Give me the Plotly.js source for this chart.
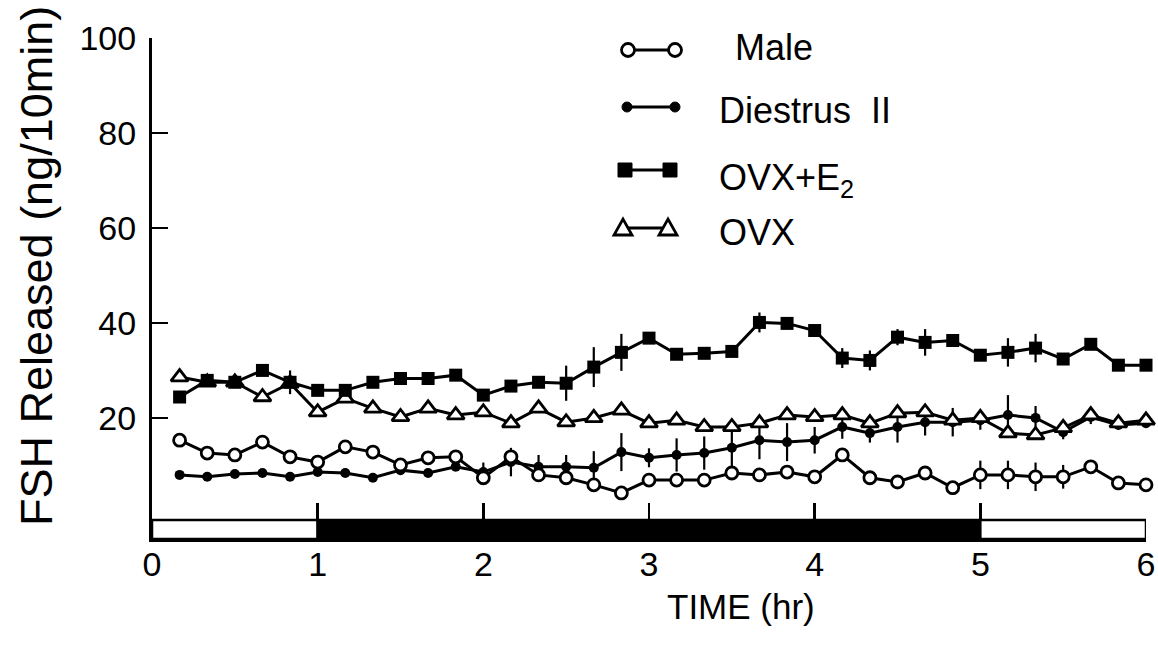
<!DOCTYPE html>
<html>
<head>
<meta charset="utf-8">
<script src="https://cdn.plot.ly/plotly-3.0.1.min.js"></script>
<style>html,body{margin:0;padding:0;background:#fff;}#chart{width:1158px;height:645px;}</style>
</head>
<body>
<div id="chart"></div>
<script>
// ---- data ----
const timeMin = [10,20,30,40,50,60,70,80,90,100,110,120,130,140,150,160,170,180,190,200,210,220,230,240,250,260,270,280,290,300,310,320,330,340,350,360];
const male = [15.3,12.6,12.2,14.9,11.8,10.7,13.9,12.8,10.1,11.6,11.8,7.4,11.8,8.0,7.4,5.9,4.2,6.9,6.9,6.9,8.4,8.0,8.6,7.6,12.2,7.4,6.5,8.4,5.3,8.0,8.0,7.6,7.6,9.7,6.3,5.9];
const maleErr = [0,0,0,0,0,0,0,0,0,0,0,0,1.5,0,0,0,0,0,0,0,0,0,0,0,0,0,0,0,0,3,3,3,2.5,0,0,0];
const diestrus = [8.0,7.6,8.2,8.4,7.6,8.6,8.4,7.4,9.0,8.4,9.7,8.6,10.7,9.7,9.7,9.5,12.8,11.6,12.2,12.6,13.7,15.3,14.9,15.3,18.1,16.8,18.1,19.1,19.1,19.5,20.6,20.0,17.0,20.2,18.5,18.9];
const diestrusErr = [0,0,0,0,0,0,0,0,0,0,0,2,3,2.5,2.5,3.5,4,2,3.5,3.5,5,4,4,2.8,2.5,2,3.3,2.8,3,2,4.2,2.5,1.5,1.5,1,1];
const ovxE2 = [24.4,27.9,27.5,30.0,27.5,25.8,25.8,27.5,28.3,28.3,29.0,24.8,26.7,27.5,27.3,30.7,33.8,36.8,33.4,33.6,34.0,40.1,39.9,38.4,32.6,32.1,37.0,35.9,36.3,33.2,33.8,34.7,32.4,35.5,31.1,31.1];
const ovxE2Err = [0,0,0,0,2.5,0,0,0,0,0,0,0,0,0,3.7,4.2,3.9,0,0,0,0,2.1,0,0,2.1,2.1,1.7,2.8,0,0,3,3,0,0,0,0];
const ovx = [28.6,27.5,27.5,24.4,27.3,21.2,24.1,22.0,20.2,22.0,20.6,21.2,18.9,22.0,19.1,20.0,21.6,18.9,19.5,18.1,18.1,18.9,20.6,20.2,20.6,18.9,21.0,21.2,19.5,20.0,16.8,16.4,17.9,20.6,18.9,19.5];
const seriesNames = ["Male", "Diestrus II", "OVX+E<sub>2</sub>", "OVX"];
const xTicks = [0,1,2,3,4,5,6];
const yTicks = [20,40,60,80,100];
// light/dark periods (hr)
const periodStart = [0,1,5];
const periodEnd = [1,5,6];
const periodDark = [false,true,false];

const timeHr = timeMin.map(m => m / 60);

// ---- layout geometry ----
const M = {l:152, r:12, t:38, b:106};
const W = 1158 - M.l - M.r, H = 645 - M.t - M.b;
const X = px => (px - M.l) / W;
const Y = py => (645 - M.b - py) / H;
const FONT = "Liberation Sans, Arial, Helvetica, sans-serif";

function errObj(arr){ return {type:'data', array:arr, visible:true, color:'#000', thickness:2.2, width:0}; }

const traces = [
  {x:timeHr, y:diestrus, name:seriesNames[1], mode:'lines+markers', error_y:errObj(diestrusErr),
   line:{color:'#000', width:3}, marker:{symbol:'circle', size:10, color:'#000'}, cliponaxis:false},
  {x:timeHr, y:male, name:seriesNames[0], mode:'lines+markers', error_y:errObj(maleErr),
   line:{color:'#000', width:3}, marker:{symbol:'circle', size:12, color:'#fff', line:{color:'#000', width:2.8}}, cliponaxis:false},
  {x:timeHr, y:ovx, name:seriesNames[3], mode:'lines+markers',
   line:{color:'#000', width:3}, marker:{symbol:'triangle-up', size:15, color:'#fff', line:{color:'#000', width:2.8}}, cliponaxis:false},
  {x:timeHr, y:ovxE2, name:seriesNames[2], mode:'lines+markers', error_y:errObj(ovxE2Err),
   line:{color:'#000', width:3}, marker:{symbol:'square', size:13, color:'#000'}, cliponaxis:false}
];

const shapes = [];
// light/dark bar
for (let i = 0; i < periodStart.length; i++) {
  shapes.push({type:'rect', xref:'x', yref:'y', x0:periodStart[i], x1:periodEnd[i], y0:-5.5, y1:-1.5,
    fillcolor: periodDark[i] ? '#000' : '#fff', line:{color:'#000', width:2.5}, layer:'above'});
}
// legend samples (pixel positions)
const legendRows = [
  {y:50, x1:628, x2:675, kind:'openCircle'},
  {y:107, x1:627, x2:675, kind:'dot'},
  {y:170, x1:625, x2:670, kind:'square'},
  {y:228, x1:623, x2:668, kind:'triangle'}
];
legendRows.forEach(r => {
  shapes.push({type:'line', xref:'paper', yref:'paper', x0:X(r.x1), x1:X(r.x2), y0:Y(r.y), y1:Y(r.y), line:{color:'#000', width:3}});
  [r.x1, r.x2].forEach(cx => {
    if (r.kind === 'openCircle') {
      shapes.push({type:'circle', xref:'paper', yref:'paper', x0:X(cx-6.5), x1:X(cx+6.5), y0:Y(r.y+6.5), y1:Y(r.y-6.5), fillcolor:'#fff', line:{color:'#000', width:2.8}});
    } else if (r.kind === 'dot') {
      shapes.push({type:'circle', xref:'paper', yref:'paper', x0:X(cx-5), x1:X(cx+5), y0:Y(r.y+5), y1:Y(r.y-5), fillcolor:'#000', line:{color:'#000', width:1}});
    } else if (r.kind === 'square') {
      shapes.push({type:'rect', xref:'paper', yref:'paper', x0:X(cx-7), x1:X(cx+7), y0:Y(r.y+7), y1:Y(r.y-7), fillcolor:'#000', line:{color:'#000', width:1}});
    } else {
      const p = `M ${X(cx-9)} ${Y(r.y+7)} L ${X(cx+9)} ${Y(r.y+7)} L ${X(cx)} ${Y(r.y-9)} Z`;
      shapes.push({type:'path', xref:'paper', yref:'paper', path:p, fillcolor:'#fff', line:{color:'#000', width:2.8}});
    }
  });
});

const annotations = [
  {text:seriesNames[0], x:X(733), y:Y(48), xanchor:'left', yanchor:'middle'},
  {text:'Diestrus&nbsp; II', x:X(717), y:Y(110), xanchor:'left', yanchor:'middle'},
  {text:seriesNames[2], x:X(717), y:Y(180), xanchor:'left', yanchor:'middle'},
  {text:seriesNames[3], x:X(717), y:Y(232), xanchor:'left', yanchor:'middle'}
].map(a => Object.assign({xref:'paper', yref:'paper', showarrow:false, font:{family:FONT, size:36, color:'#000'}}, a));
annotations.push({xref:'paper', yref:'paper', showarrow:false, text:'FSH Released (ng/10min)', textangle:-90,
  x:X(36), y:Y(266), xanchor:'center', yanchor:'middle', font:{family:FONT, size:45, color:'#000'}});
annotations.push({xref:'paper', yref:'paper', showarrow:false, text:'TIME (hr)',
  x:X(741), y:Y(606), xanchor:'center', yanchor:'middle', font:{family:FONT, size:35, color:'#000'}});

const layout = {
  width:1158, height:645, margin:M, paper_bgcolor:'#fff', plot_bgcolor:'#fff',
  showlegend:false, font:{family:FONT, color:'#000'},
  xaxis:{range:[0,6], tickvals:xTicks, ticktext:xTicks.map(String), ticks:'inside', ticklen:36, tickwidth:2.5, tickcolor:'#000',
    showline:true, linecolor:'#000', linewidth:2.5, showgrid:false, zeroline:false, tickfont:{family:FONT, size:34, color:'#000'},
    ticklabelstandoff:-6, fixedrange:true},
  yaxis:{range:[-5.5,100], tickvals:yTicks, ticktext:yTicks.map(String), ticks:'inside', ticklen:16, tickwidth:2.5, tickcolor:'#000',
    showline:true, linecolor:'#000', linewidth:3, showgrid:false, zeroline:false, tickfont:{family:FONT, size:34, color:'#000'},
    ticklabelstandoff:6, fixedrange:true},
  shapes:shapes, annotations:annotations
};

Plotly.newPlot('chart', traces, layout, {staticPlot:true, displayModeBar:false});
</script>
</body>
</html>
